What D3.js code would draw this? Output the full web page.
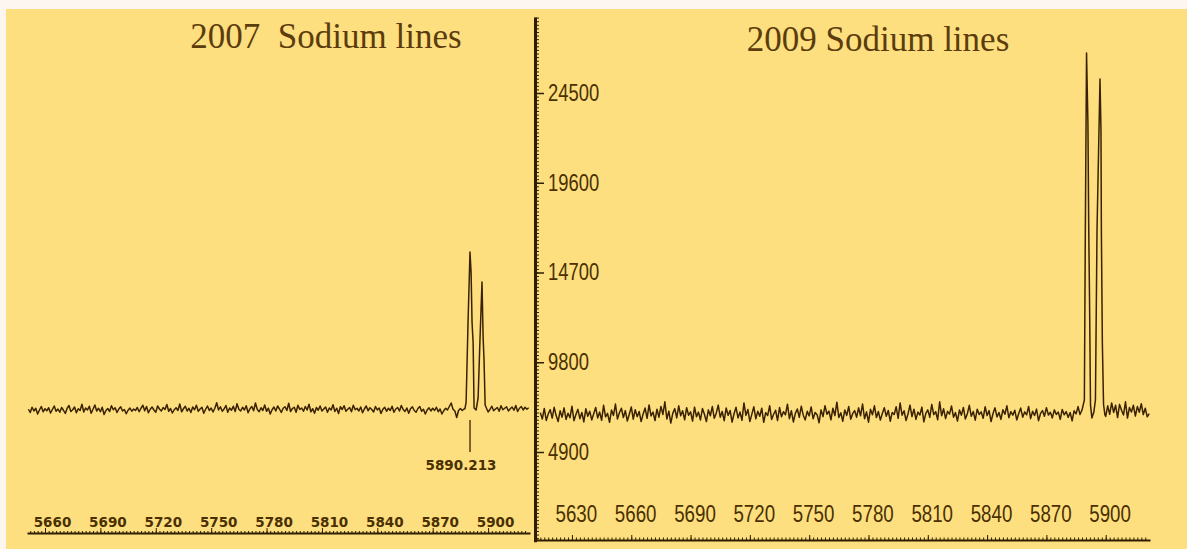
<!DOCTYPE html>
<html>
<head>
<meta charset="utf-8">
<script src="https://cdn.jsdelivr.net/npm/d3@7"></script>
<style>
  body { margin: 0; background: #fcf5f0; }
  svg { display: block; }
  .narrow { font-family: "Liberation Sans Narrow", "Liberation Sans", sans-serif; }
</style>
</head>
<body>
<div id="chart"></div>
<script>
// ---- data: 2007 spectrum (left panel, no y axis) ----
var start2007 = 5651; // first wavelength of the 1 A grid
var counts2007 = [
  4950, 4820, 5030, 4880, 4990, 4760, 4920, 5060, 4850, 4970, 4890, 5010, 4800, 4940, 5080, 4870, 4960, 4830, 5020, 4910,
  4780, 4990, 5100, 4860, 4930, 5040, 4810, 4970, 4900, 5150, 4840, 5000, 4920, 5070, 4790, 4950, 5120, 4880, 4990, 4850,
  5030, 4740, 4900, 4980, 4860, 5090, 4930, 5010, 4820, 4960, 5050, 4880, 4940, 4770, 4910, 5000, 4870, 4960, 4900, 5020,
  4850, 4990, 5110, 4890, 5060, 4810, 4950, 5040, 4920, 4830, 5080, 4960, 4880, 5020, 4940, 5140, 4870, 4980, 4800, 4930,
  5010, 4900, 5160, 4850, 4970, 5070, 4880, 4990, 4820, 5040, 4930, 5110, 4870, 4960, 5030, 4790, 4950, 5080, 4900, 5000,
  4840, 4990, 5210, 4920, 5050, 4870, 4960, 5100, 4830, 5000, 4910, 5070, 4860, 5170, 4950, 4880, 5030, 4920, 5090, 4810,
  4970, 5060, 4890, 5200, 4940, 4850, 5010, 4900, 5120, 4870, 4990, 4760, 4930, 5040, 4880, 5080, 4960, 4820, 4990, 5050,
  4900, 5190, 4860, 4980, 5030, 4830, 5110, 4940, 5000, 4870, 5060, 4920, 5150, 4850, 4970, 4790, 5020, 4910, 5080, 4880,
  4960, 5040, 4830, 5000, 4920, 5130, 4860, 4990, 4780, 5050, 4940, 5090, 4870, 4950, 5020, 4850, 5110, 4930, 4990, 4880,
  5040, 4810, 4960, 5080, 4890, 5010, 4940, 4840, 5060, 4920, 5000, 4780, 4950, 5030, 4870, 4990, 4900, 5070, 4830, 4960,
  5020, 4880, 5100, 4940, 4860, 5000, 4790, 4970, 5050, 4900, 4830, 4980, 5060, 4870, 4950, 4760, 4920, 5010, 4880, 4990,
  4900, 5030, 4850, 4960, 4760, 4890, 4990, 4920, 5060, 5200, 4950, 4880, 4620, 4900, 4980, 4900, 4960, 4930, 5000, 4940,
  4900, 4970, 4920, 4880, 5010, 4950, 4900, 4980, 4860, 5030, 4940, 5070, 4890, 4960, 5020, 4870, 5090, 4930, 4990, 5050,
  4880, 4970, 5040, 4910, 5100, 4860, 4990, 5060, 4920, 5030, 4950, 5010
];
// sodium doublet, sampled finer
var lineWave2007 = [5887.5, 5888.1, 5889.1, 5890.2, 5890.8, 5891.3, 5891.9, 5892.4, 5893.5, 5894.6, 5895.6, 5896.7, 5897.3, 5897.8, 5898.4, 5900.0];
var lineCounts2007 = [4980, 5240, 8320, 11240, 10400, 8440, 7600, 5000, 4920, 5400, 7720, 10040, 7840, 6920, 5120, 4840];
var marker2007 = 5890.213;
var xTicks2007 = [5660, 5690, 5720, 5750, 5780, 5810, 5840, 5870, 5900];

// ---- data: 2009 spectrum (right panel) ----
var start2009 = 5614;
var counts2009 = [
  7050, 6700, 7280, 6620, 6980, 7210, 6750, 7340, 6890, 6560, 7150, 6800, 7310, 6680, 7020, 6770, 7400, 6610, 6950, 7230,
  6720, 7060, 6540, 7260, 6850, 7120, 6650, 6990, 7330, 6760, 7080, 6630, 7450, 6820, 7010, 6520, 7190, 6900, 7520, 6700,
  7040, 7290, 6780, 7160, 6590, 6960, 7360, 6690, 7210, 6830, 7110, 6560, 6980, 7300, 6740, 7470, 6870, 7080, 6620, 7240,
  6800, 7390, 6950, 7640, 6700, 7130, 6480, 7010, 7270, 6760, 7420, 6880, 7150, 6660, 7320, 6910, 7090, 6590, 7350, 6820,
  7080, 6650, 7270, 6960, 6560, 7200, 6880, 7380, 6740, 7020, 7460, 6800, 7110, 6610, 7300, 6900, 7170, 6530, 6990, 7340,
  6760, 7080, 6630, 7580, 6900, 7220, 6560, 6970, 7370, 6710, 7130, 6850, 7290, 6520, 7050, 6890, 7430, 6680, 6960, 7180,
  6620, 7330, 6820, 7100, 6930, 7510, 6720, 7150, 6540, 7010, 7250, 6790, 7400, 6910, 6650, 7120, 6870, 7360, 6710, 7060,
  6940, 6500, 7200, 6830, 7430, 6960, 7130, 6660, 7290, 6890, 7620, 6780, 7040, 6580, 7190, 6900, 7390, 6690, 6990, 7160,
  6800, 7310, 6880, 7520, 6720, 7090, 6530, 7230, 6930, 7420, 6780, 7110, 6640, 7000, 7320, 6850, 7170, 6580, 7060, 6950,
  7370, 6740, 7580, 6910, 7150, 6620, 6990, 7460, 6830, 7240, 6680, 7080, 6920, 7350, 6550, 7010, 7200, 6790, 7500, 6940,
  7100, 6660, 7640, 6880, 7260, 6720, 7120, 6970, 7410, 6800, 7050, 6590, 7190, 6910, 7330, 6700, 6990, 7450, 6850, 7110,
  6640, 7240, 6950, 7090, 6740, 7370, 6890, 7160, 6560, 7000, 7310, 6820, 7060, 6680, 7210, 6960, 7420, 6770, 7100, 6910,
  7180, 6650, 7000, 7300, 6800, 7090, 6930, 7390, 6720, 7120, 6890, 7240, 6610, 6990, 7160, 6850, 7320, 6920, 7070, 6760,
  7200, 6950, 7080, 6680, 7220, 6930, 7110, 6790, 7060, 6600, 7150, 6980, 7380, 6900, 6910, 7030, 6880, 6990, 6940, 7050,
  6900, 7010, 6870, 6980, 6930, 7020, 6840, 7420, 6960, 7580, 7060, 7450, 6780, 7500, 7180, 6920, 7640, 6750, 7330, 7080,
  7450, 6860, 7380, 7070, 7540, 6940, 7290, 6820, 6990
];
var lineWave2009 = [5887.0, 5888.0, 5889.2, 5889.7, 5890.3, 5891.0, 5891.4, 5891.8, 5892.3, 5893.0, 5894.0, 5894.8, 5895.6, 5897.1, 5897.6, 5897.8, 5898.3, 5898.9, 5899.6];
var lineCounts2009 = [6950, 7190, 7740, 17190, 26690, 22860, 17190, 13360, 7470, 6760, 7080, 7740, 17020, 25270, 22480, 17020, 10850, 7500, 6920];
var xTicks2009 = [5630, 5660, 5690, 5720, 5750, 5780, 5810, 5840, 5870, 5900];
var yTicks2009 = [4900, 9800, 14700, 19600, 24500];

var titles = ["2007  Sodium lines", "2009 Sodium lines"];

var chart_width = 1187;
var chart_height = 549;
var ink = '#2e1d00';
var textInk = '#4a3000';
var plain = d3.format('d');

// merge the 1 A grid with the finely sampled line profile
function buildSeries(start, counts, lineWave, lineCounts) {
  var lo = lineWave[0], hi = lineWave[lineWave.length - 1];
  var pts = counts.map(function(c, i) { return [start + i, c]; })
    .filter(function(d) { return d[0] < lo || d[0] > hi; });
  lineWave.forEach(function(w, i) { pts.push([w, lineCounts[i]]); });
  pts.sort(function(a, b) { return a[0] - b[0]; });
  return pts;
}

var svg = d3.select('#chart')
  .append('svg')
  .attr('width', chart_width)
  .attr('height', chart_height);

svg.append('rect')
  .attr('x', 6).attr('y', 9)
  .attr('width', chart_width - 6).attr('height', chart_height - 9)
  .attr('fill', '#fedf80');

// ---------------- left panel (2007) ----------------
var xL = d3.scaleLinear().domain([5650.25, 5922.7]).range([27, 530]);
var yL = d3.scaleLinear().domain([0, 12000]).range([533, 233]);

var minorL = svg.append('g')
  .attr('transform', 'translate(0,533)')
  .call(d3.axisTop(xL).tickValues(d3.range(5652, 5922, 2)).tickSize(2).tickSizeOuter(0).tickFormat(''));
minorL.select('.domain').attr('stroke', ink).attr('stroke-width', 2);
minorL.selectAll('line').attr('stroke', ink);

var axL = svg.append('g')
  .attr('transform', 'translate(0,533)')
  .call(d3.axisTop(xL).tickValues(xTicks2007).tickFormat(plain).tickSize(5).tickSizeOuter(0).tickPadding(1));
axL.select('.domain').remove();
axL.selectAll('line').attr('stroke', ink);
axL.selectAll('text')
  .attr('dx', 7)
  .attr('fill', textInk)
  .style('font-family', '"DejaVu Sans", sans-serif')
  .style('font-weight', 'bold')
  .style('font-size', '13.5px');

var line2007 = d3.line()
  .x(function(d) { return xL(d[0]); })
  .y(function(d) { return yL(d[1]); });

svg.append('path')
  .datum(buildSeries(start2007, counts2007, lineWave2007, lineCounts2007))
  .attr('d', line2007)
  .attr('fill', 'none')
  .attr('stroke', '#3a2200')
  .attr('stroke-width', 1.5)
  .attr('stroke-linejoin', 'round');

// marker for the D2 line
svg.append('line')
  .attr('x1', xL(marker2007)).attr('x2', xL(marker2007))
  .attr('y1', 420).attr('y2', 452)
  .attr('stroke', '#3a2200').attr('stroke-width', 1.3);
svg.append('text')
  .attr('x', xL(marker2007) - 9).attr('y', 470)
  .attr('text-anchor', 'middle')
  .attr('fill', textInk)
  .style('font-family', '"DejaVu Sans", sans-serif')
  .style('font-weight', 'bold')
  .style('font-size', '13.5px')
  .text(marker2007.toFixed(3));

// ---------------- right panel (2009) ----------------
var xR = d3.scaleLinear().domain([5611.3, 5922.4]).range([535, 1150]);
var yR = d3.scaleLinear().domain([0, 28650]).range([541.75, 17]);

var minorR = svg.append('g')
  .attr('transform', 'translate(0,540)')
  .call(d3.axisTop(xR).tickValues(d3.range(5612, 5922, 2)).tickSize(2.5).tickSizeOuter(0).tickFormat(''));
minorR.select('.domain').attr('stroke', ink).attr('stroke-width', 2);
minorR.selectAll('line').attr('stroke', ink);

var axRx = svg.append('g')
  .attr('transform', 'translate(0,540)')
  .call(d3.axisTop(xR).tickValues(xTicks2009).tickFormat(plain).tickSize(5).tickSizeOuter(0).tickPadding(13));
axRx.select('.domain').remove();
axRx.selectAll('line').attr('stroke', ink);
axRx.selectAll('text')
  .attr('class', 'narrow')
  .attr('dx', 5)
  .attr('transform', 'scale(0.78,1)')
  .attr('fill', textInk)
  .style('font-size', '24px');

var minorRy = svg.append('g')
  .attr('transform', 'translate(535,0)')
  .call(d3.axisRight(yR).tickValues(d3.range(196, 28650, 196)).tickSize(4).tickSizeOuter(0).tickFormat(''));
minorRy.select('.domain').attr('stroke', ink).attr('stroke-width', 3);
minorRy.selectAll('line').attr('stroke', ink);

var axRy = svg.append('g')
  .attr('transform', 'translate(535,0)')
  .call(d3.axisRight(yR).tickValues(yTicks2009).tickFormat(plain).tickSize(9).tickSizeOuter(0));
axRy.select('.domain').remove();
axRy.selectAll('line').attr('stroke', ink).attr('stroke-width', 1.5);
axRy.selectAll('text')
  .attr('class', 'narrow')
  .attr('x', 13 / 0.8)
  .attr('transform', 'scale(0.8,1)')
  .attr('fill', textInk)
  .style('font-size', '23px');

var line2009 = d3.line()
  .x(function(d) { return xR(d[0]); })
  .y(function(d) { return yR(d[1]); });

svg.append('path')
  .datum(buildSeries(start2009, counts2009, lineWave2009, lineCounts2009))
  .attr('d', line2009)
  .attr('fill', 'none')
  .attr('stroke', '#3a2200')
  .attr('stroke-width', 1.5)
  .attr('stroke-linejoin', 'round');

// ---------------- titles ----------------
svg.selectAll('.title')
  .data(titles)
  .enter()
  .append('text')
  .attr('class', 'title')
  .attr('x', function(d, i) { return i === 0 ? 326 : 878; })
  .attr('y', function(d, i) { return i === 0 ? 48 : 51; })
  .attr('text-anchor', 'middle')
  .attr('fill', '#5b3c0c')
  .style('font-family', '"Liberation Serif", "Times New Roman", serif')
  .style('font-size', '35px')
  .style('white-space', 'pre')
  .text(function(d) { return d; });
</script>
</body>
</html>
